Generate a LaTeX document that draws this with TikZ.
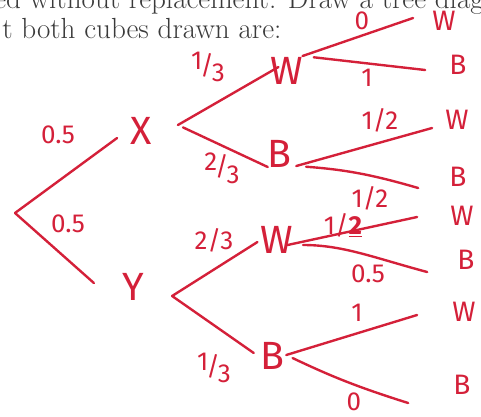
\documentclass[tikz,border=0pt]{standalone}
\usepackage{fontspec}
\newfontfamily\hand{Fira Sans}
\usetikzlibrary{positioning}
\definecolor{ink}{HTML}{D42039}
\definecolor{print}{HTML}{3A3A3A}
\newcommand\handfrac[2]{\raisebox{4pt}{#1}\kern-1.5pt/\kern-1.5pt\raisebox{-5pt}{#2}}

\begin{document}
\begin{tikzpicture}[x=0.025cm,y=-0.025cm,
  stage/.style={text=ink,font=\hand\fontsize{28}{28}\selectfont,inner sep=0pt},
  leaf/.style={text=ink,font=\hand\fontsize{20}{20}\selectfont,inner sep=0pt},
  prob/.style={text=ink,font=\hand\fontsize{18.5}{18.5}\selectfont,inner sep=0pt},
  branch/.style={draw=ink,line width=1.7pt,line cap=round},
  prompt/.style={text=print,font=\fontsize{20.7}{20.7}\selectfont,inner sep=0pt,anchor=base west}]

\useasboundingbox (0,0) rectangle (481,416);
\clip (0,0) rectangle (481,416);

% ---------------- printed question (cut off) -------------------------------
\node[prompt] (q1) at (-6,8) {ed without replacement. Draw a tree diagram};
\node[prompt] (q2) at (2,38) {t both cubes drawn are:};

% ---------------- first draw ------------------------------------------------
\coordinate (root) at (15,213);
\node[stage] (X) at (141,131) {X};
\node[stage] (Y) at (133,287) {Y};
\draw[branch] (root) -- ([shift={(-13,7)}]X.west);
\draw[branch] (root) -- ([shift={(-28,-4)}]Y.west);
\node[prob] at (58,135) {0.5};
\node[prob] at (68,224) {0.5};

% ---------------- second level ----------------------------------------------
\node[stage] (xW) at (287,71) {W};
\node[stage] (xB) at (279,154) {B};
\node[stage] (yW) at (277,240) {W};
\node[stage] (yB) at (272,356) {B};

\coordinate (Xf) at ([shift={(26,-6)}]X.east);
\coordinate (Yf) at ([shift={(28,9)}]Y.east);
\draw[branch] (Xf) -- ([shift={(8,-4)}]xW.west);
\draw[branch,shorten <=4pt] (Xf) -- ([shift={(1,13)}]xB.west);
\draw[branch] (Yf) -- ([shift={(-3,2)}]yW.west);
\draw[branch] (Yf) -- ([shift={(-6,-3)}]yB.west);
\node[prob] at (208,67) {\handfrac{1}{3}};
\node[prob] at (222,168) {\handfrac{2}{3}};
\node[prob] at (214,240) {2/3};
\node[prob] at (214,368) {\handfrac{1}{3}};

% ---------------- leaves ----------------------------------------------------
\foreach \n/\t/\x/\y in {xWW/W/444/21, xWB/B/458/65, xBW/W/457/120, xBB/B/458/177,
                         yWW/W/462/216, yWB/B/466/260, yBW/W/464/312, yBB/B/462/385}
  \node[leaf] (\n) at (\x,\y) {\t};

\coordinate (xWf) at ([shift={(-1,-15)}]xW.east);
\coordinate (xBf) at ([shift={(5,12)}]xB.east);
\coordinate (yWf) at ([shift={(-6,5)}]yW.east);
\coordinate (yBf) at ([shift={(2,-1)}]yB.east);

\draw[branch] (xWf) -- ([shift={(-19,-3)}]xWW.west);
\draw[branch,shorten <=8pt] (xWf) -- ([shift={(-24,5)}]xWB.west);
\draw[branch] (xBf) -- ([shift={(-13,8)}]xBW.west);
\draw[branch,shorten <=7pt] (xBf) to[bend left=6] ([shift={(-31,11)}]xBB.west);
\draw[branch] (yWf) -- ([shift={(-33,1)}]yWW.west);
\draw[branch,shorten <=11pt] (yWf) to[out=0,in=165] ([shift={(-30,12)}]yWB.west);
\draw[branch] (yBf) -- ([shift={(-35,3)}]yBW.west);
\draw[branch,shorten <=5pt] (yBf) to[bend right=4] ([shift={(-45,18)}]yBB.west);

\node[prob] at (362,21) {0};
\node[prob] at (367,78) {1};
\node[prob] at (380,120) {1/2};
\node[prob] at (370,198) {1/2};
\node[prob] at (343,225) {1/\underline{\textbf{2}}};
\node[prob] at (368,274) {0.5};
\node[prob] at (357,313) {1};
\node[prob] at (354,402) {0};

\end{tikzpicture}
\end{document}
